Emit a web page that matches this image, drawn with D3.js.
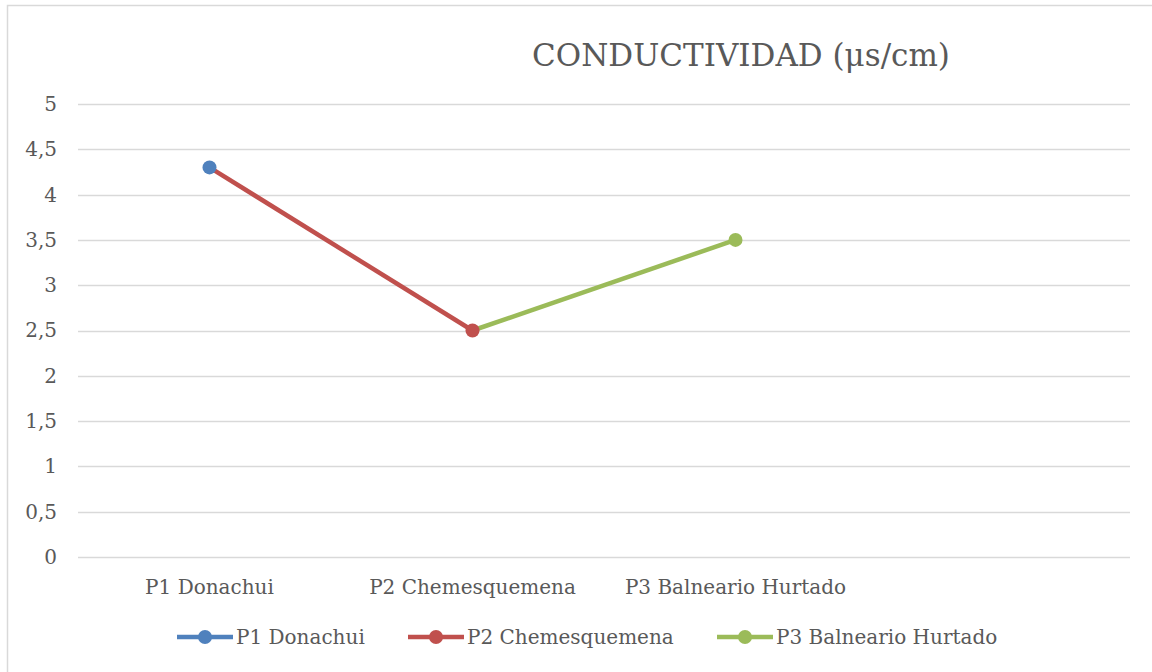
<!DOCTYPE html>
<html>
<head>
<meta charset="utf-8">
<script src="https://cdn.jsdelivr.net/npm/d3@7"></script>
<style>
  html, body { margin: 0; padding: 0; background: #fff; }
  svg text { font-family: "DejaVu Serif", serif; fill: #595959; }
</style>
</head>
<body>
<svg id="svg" width="1152" height="672"></svg>
<script>
    // categorias (la cuarta queda vacia, como en la hoja original)
    var categories = ["P1 Donachui", "P2 Chemesquemena", "P3 Balneario Hurtado", ""];
    var seriesNames = ["P1 Donachui", "P2 Chemesquemena", "P3 Balneario Hurtado"];
    var seriesColors = ["#4F81BD", "#C0504D", "#9BBB59"];
    // valores por serie (null = sin dato)
    var p1Values = [4.3, null, null, null];
    var p2Values = [4.3, 2.5, null, null];
    var p3Values = [null, 2.5, 3.5, null];
    var yTicks = [0, 0.5, 1, 1.5, 2, 2.5, 3, 3.5, 4, 4.5, 5];
    var title = "CONDUCTIVIDAD (\u03bcs/cm)";

    (function() {
    var svg = d3.select("#svg"),
        pl = 78, pr = 1130, pt = 104, pb = 557;

    // marco
    svg.append("rect").attr("x", 7.5).attr("y", 5.5).attr("width", 1160).attr("height", 680)
        .attr("fill", "#fff").attr("stroke", "#d9d9d9").attr("stroke-width", 1.5);

    var x = d3.scaleBand().domain(categories).range([pl, pr]);
    var y = d3.scaleLinear().domain([0, 5]).range([pb, pt]);
    var fmt = function(v) { return String(v).replace(".", ","); };

    // rejilla
    svg.append("g").selectAll("line").data(yTicks).enter().append("line")
        .attr("x1", pl).attr("x2", pr)
        .attr("y1", function(d) { return Math.round(y(d)) + 0.5; })
        .attr("y2", function(d) { return Math.round(y(d)) + 0.5; })
        .attr("stroke", "#d9d9d9").attr("stroke-width", 1.5);

    var yAxis = svg.append("g").attr("transform", "translate(" + pl + ",0)")
        .call(d3.axisLeft(y).tickValues(yTicks).tickFormat(fmt).tickSize(0).tickPadding(21));
    yAxis.select(".domain").remove();
    yAxis.selectAll("text").attr("font-size", 20).attr("font-family", "DejaVu Serif").attr("fill", "#595959");

    var xAxis = svg.append("g").attr("transform", "translate(0," + pb + ")")
        .call(d3.axisBottom(x).tickSize(0).tickPadding(23));
    xAxis.select(".domain").remove();
    xAxis.selectAll("text").attr("font-size", 20).attr("font-family", "DejaVu Serif").attr("fill", "#595959");

    // titulo
    svg.append("text").attr("x", 741).attr("y", 66).attr("text-anchor", "middle")
        .attr("font-size", 31).text(title);

    var cx = function(i) { return x(categories[i]) + x.bandwidth() / 2; };
    var allSeries = [p1Values, p2Values, p3Values];
    var line = d3.line()
        .defined(function(d) { return d != null; })
        .x(function(d, i) { return cx(i); })
        .y(function(d) { return y(d); });

    var gl = svg.append("g");
    allSeries.forEach(function(s, k) {
        gl.append("path").attr("d", line(s)).attr("fill", "none")
            .attr("stroke", seriesColors[k]).attr("stroke-width", 4.5).attr("stroke-linejoin", "round");
    });
    // marcadores: cada serie en su propio punto
    allSeries.forEach(function(s, k) {
        gl.append("circle").attr("cx", cx(k)).attr("cy", y(s[k])).attr("r", 7)
            .attr("fill", seriesColors[k]);
    });

    // leyenda
    var legX = [177, 408, 717], legY = 637;
    var lg = svg.append("g").selectAll("g").data(seriesNames).enter().append("g")
        .attr("transform", function(d, i) { return "translate(" + legX[i] + "," + legY + ")"; });
    lg.append("line").attr("x1", 0).attr("x2", 56).attr("y1", 0).attr("y2", 0)
        .attr("stroke", function(d, i) { return seriesColors[i]; }).attr("stroke-width", 4.5);
    lg.append("circle").attr("cx", 28).attr("cy", 0).attr("r", 7)
        .attr("fill", function(d, i) { return seriesColors[i]; });
    lg.append("text").attr("x", 59).attr("y", 7).attr("font-size", 20).text(function(d) { return d; });
    })();
</script>
</body>
</html>
